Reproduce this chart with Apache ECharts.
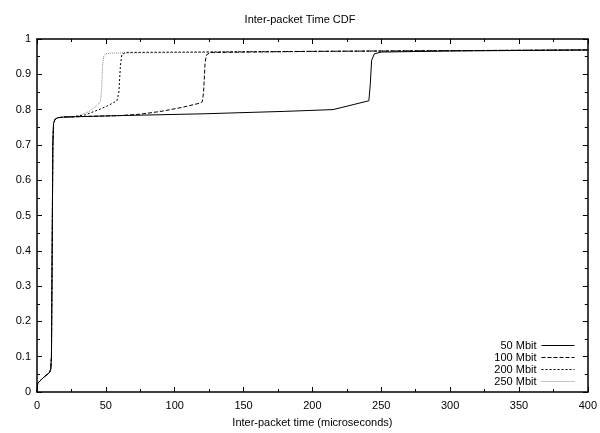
<!DOCTYPE html>
<html>
<head>
<meta charset="utf-8">
<script src="https://cdn.jsdelivr.net/npm/echarts@6/dist/echarts.min.js"></script>
<style>
html, body { margin: 0; padding: 0; background: #fff; }
#app { width: 600px; height: 433px; }
</style>
</head>
<body>
<div id="app"></div>
<script>
const seriesNames = ['50 Mbit', '100 Mbit', '200 Mbit', '250 Mbit']

// shared start of every curve (x in microseconds, y = CDF)
const start = [[0, 0], [0.5, 0.025], [1, 0.03], [5, 0.042], [9, 0.055], [10, 0.065],
  [10.5, 0.1], [11, 0.4], [11.5, 0.7], [12, 0.76], [13, 0.772], [15, 0.777], [20, 0.779]]

const mbit50 = [[60, 0.783], [120, 0.788], [180, 0.795], [215, 0.8], [241, 0.825],
  [242, 0.87], [243, 0.94], [245, 0.958], [250, 0.963], [300, 0.966], [400, 0.969]]
const mbit100 = [[40, 0.781], [60, 0.783], [75, 0.787], [90, 0.795], [105, 0.806], [118, 0.818],
  [120, 0.822], [121, 0.85], [122, 0.93], [123, 0.955], [126, 0.962], [200, 0.965], [300, 0.967], [400, 0.969]]
const mbit200 = [[25, 0.779], [35, 0.785], [45, 0.8], [52, 0.812], [58, 0.825], [59.5, 0.85],
  [60.5, 0.92], [61.5, 0.955], [64, 0.962], [150, 0.964], [300, 0.967], [400, 0.969]]
const mbit250 = [[25, 0.779], [32, 0.785], [38, 0.795], [43, 0.81], [46, 0.822], [47, 0.86],
  [47.5, 0.92], [48.5, 0.952], [50, 0.958], [53, 0.96], [150, 0.963], [300, 0.967], [400, 0.969]]

const curves = [mbit50, mbit100, mbit200, mbit250]
const lineStyles = [
  {color: '#000', width: 1, type: 'solid'},
  {color: '#000', width: 1, type: [4, 2]},
  {color: '#000', width: 1, type: [2, 2]},
  {color: '#888', width: 1, type: [1, 1]}
]

const font = 'Liberation Sans, Arial, sans-serif'
const myCharts = echarts.init(document.getElementById('app'))

const hiddenAxis = {
  min: 0, show: true,
  axisLabel: {show: false},
  splitLine: {show: false},
  axisTick: {show: true, inside: true, length: 5, lineStyle: {color: '#000'}},
  minorTick: {show: true, splitNumber: 2, length: 3, lineStyle: {color: '#000'}}
}

const option = {
  animation: false,
  backgroundColor: '#fff',
  textStyle: {fontFamily: font},
  title: {
    text: 'Inter-packet Time CDF', left: 'center', top: 9,
    textStyle: {fontFamily: font, fontSize: 11, fontWeight: 'normal', color: '#000'}
  },
  legend: {
    data: seriesNames,
    orient: 'vertical', align: 'right',
    right: 20, top: 335,
    itemWidth: 33, itemHeight: 11, itemGap: 1,
    itemStyle: {color: 'transparent', borderColor: 'transparent', borderWidth: 0},
    lineStyle: {width: 1},
    textStyle: {fontFamily: font, fontSize: 11, color: '#000'}
  },
  grid: {left: 37, right: 12, top: 39, bottom: 40},
  xAxis: [{
    type: 'value', min: 0, max: 400, interval: 50,
    name: 'Inter-packet time (microseconds)', nameLocation: 'middle', nameGap: 25,
    nameTextStyle: {fontFamily: font, fontSize: 11, color: '#000'},
    axisLine: {show: true, lineStyle: {color: '#000', width: 1.5}},
    axisTick: {inside: true, length: 5, lineStyle: {color: '#000'}},
    minorTick: {show: true, splitNumber: 2, length: 3, lineStyle: {color: '#000'}},
    axisLabel: {fontFamily: font, fontSize: 11, color: '#000', margin: 8},
    splitLine: {show: false}
  }, Object.assign({}, hiddenAxis, {type: 'value', position: 'top', max: 400, interval: 50,
    axisLine: {show: true, onZero: false, lineStyle: {color: '#000', width: 1.5}}})],
  yAxis: [{
    type: 'value', min: 0, max: 1, interval: 0.1,
    axisLine: {show: true, lineStyle: {color: '#000', width: 1.5}},
    axisTick: {inside: true, length: 5, lineStyle: {color: '#000'}},
    minorTick: {show: true, splitNumber: 2, length: 3, lineStyle: {color: '#000'}},
    axisLabel: {fontFamily: font, fontSize: 11, color: '#000', margin: 6},
    splitLine: {show: false}
  }, Object.assign({}, hiddenAxis, {type: 'value', position: 'right', max: 1, interval: 0.1,
    axisLine: {show: true, onZero: false, lineStyle: {color: '#000', width: 1.5}}})],
  series: seriesNames.map((name, i) => ({
    name: name,
    type: 'line',
    showSymbol: false,
    symbol: 'none',
    data: start.concat(curves[i]),
    lineStyle: lineStyles[i],
    itemStyle: {color: lineStyles[i].color},
    z: 10 - i
  }))
}

myCharts.setOption(option)
</script>
</body>
</html>
